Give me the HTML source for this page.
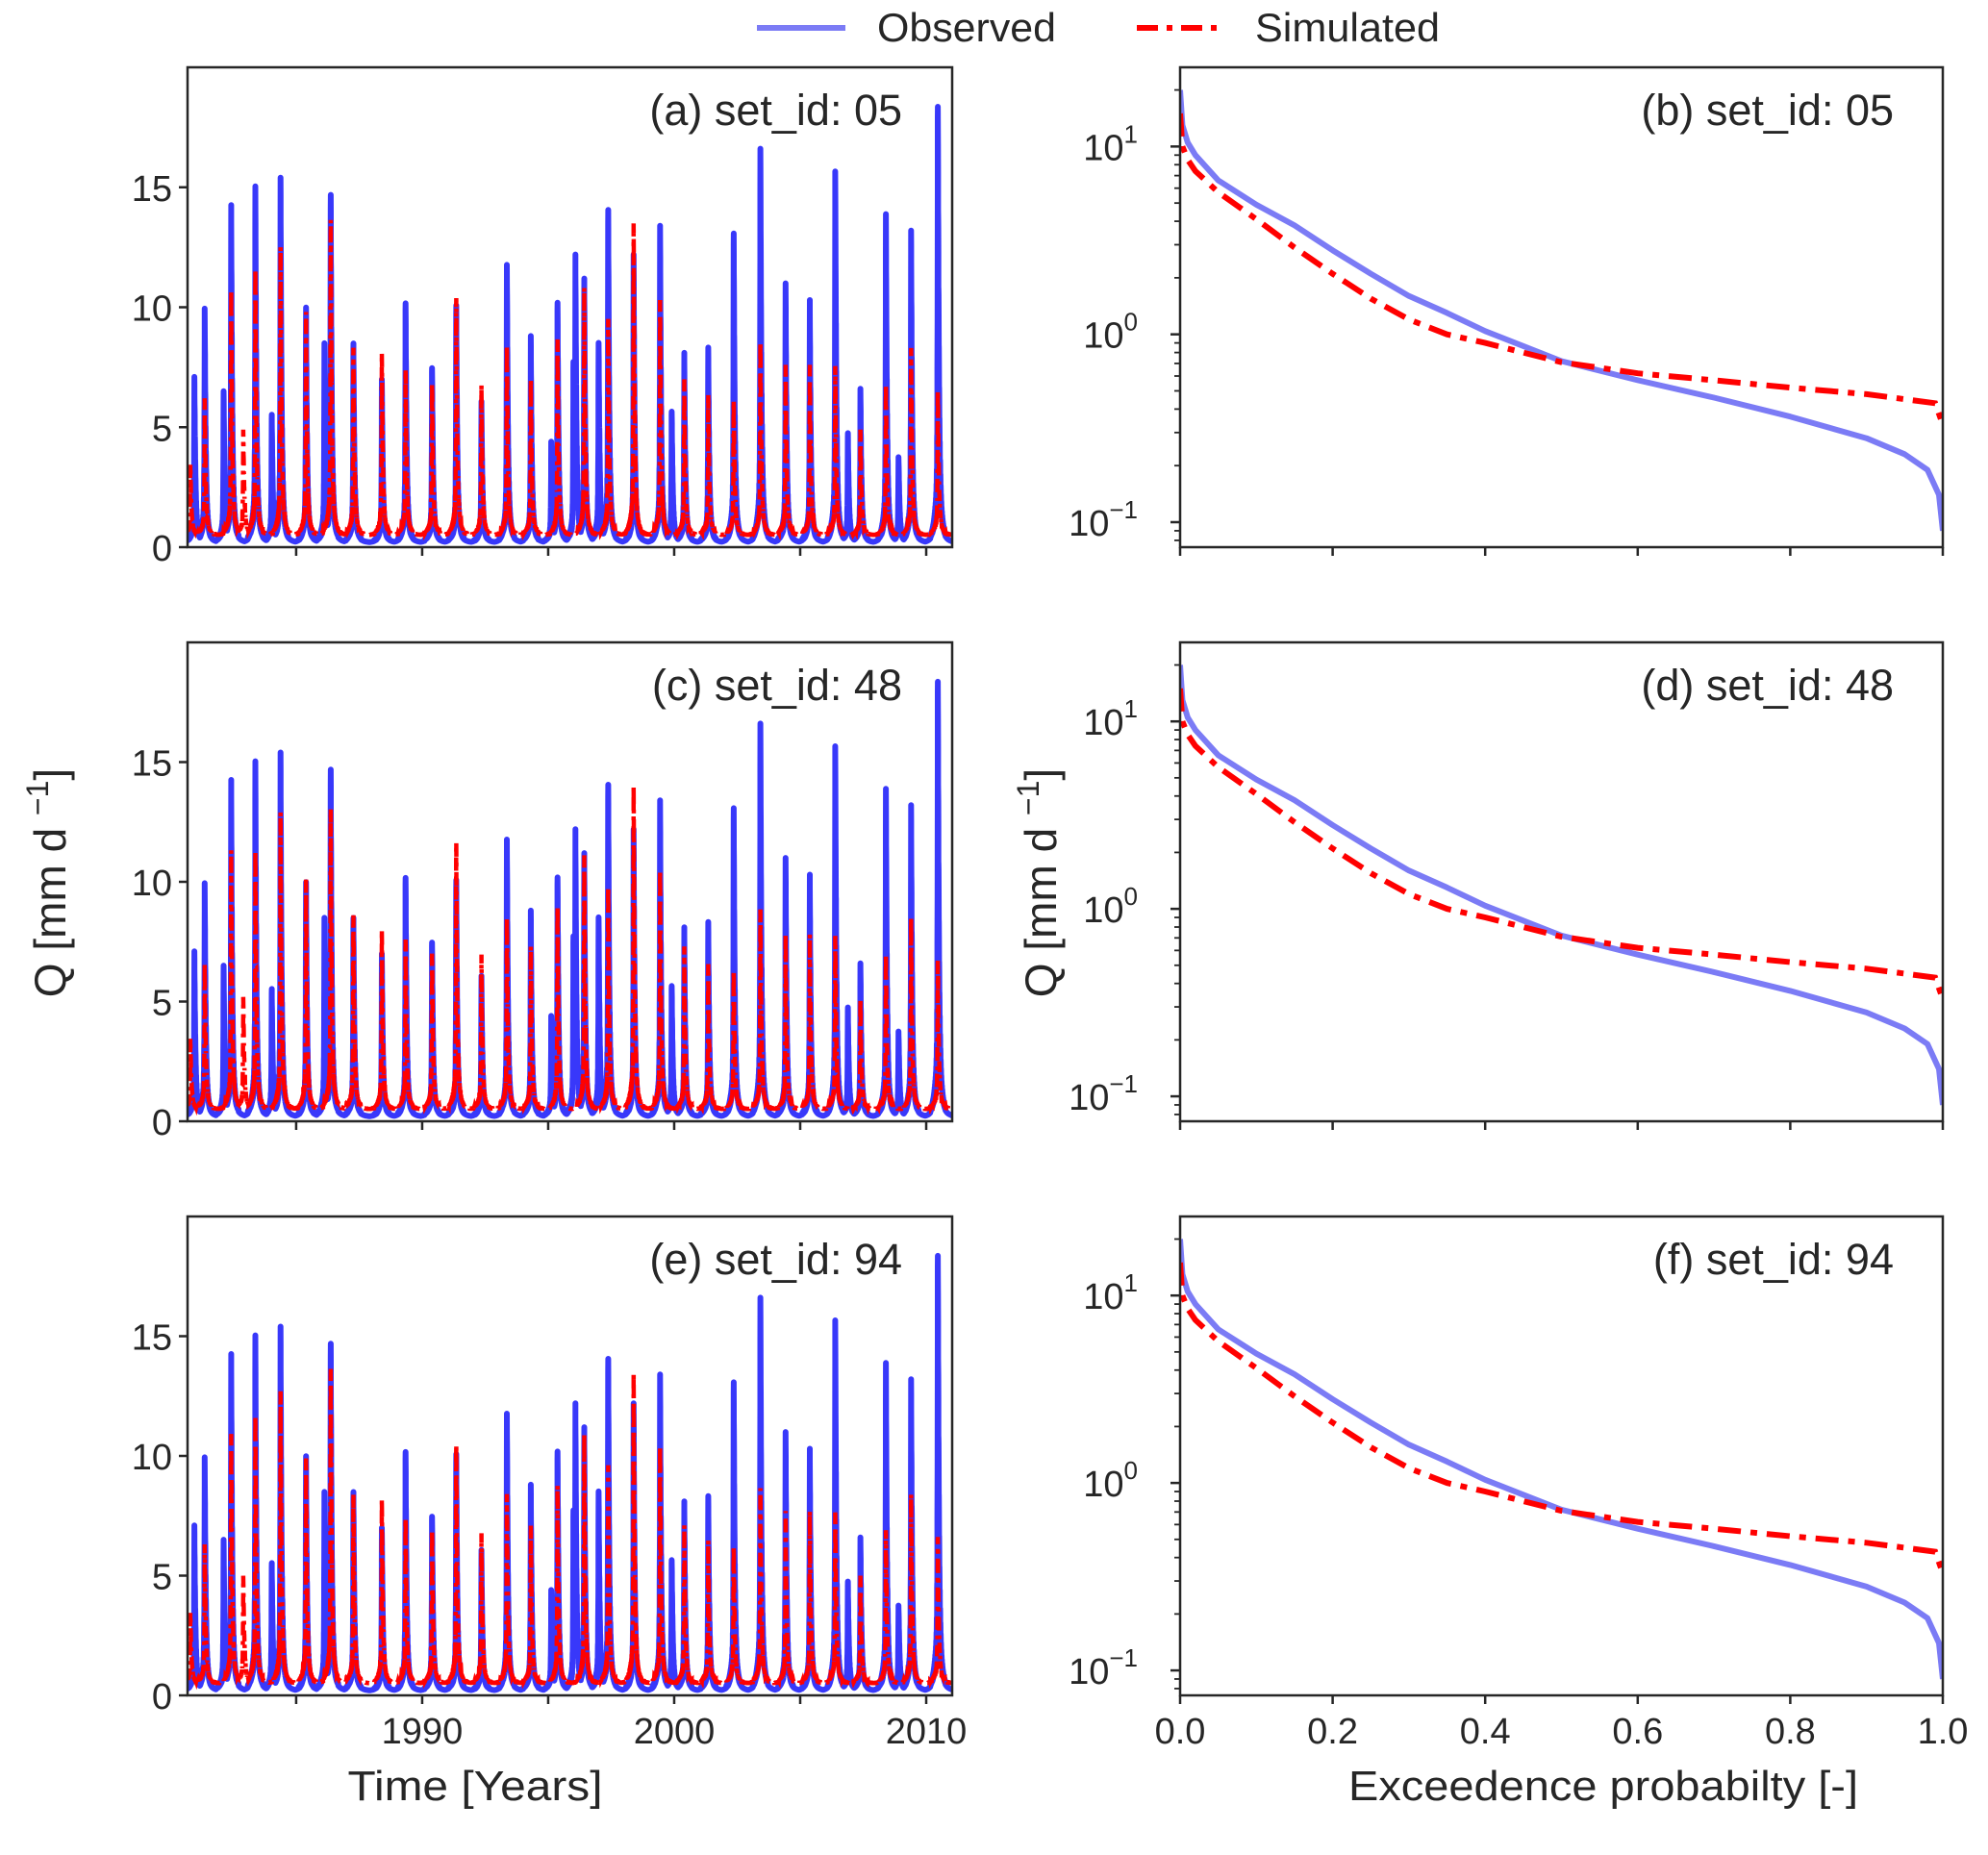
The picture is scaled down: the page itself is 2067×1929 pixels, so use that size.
<!DOCTYPE html>
<html><head><meta charset="utf-8"><style>
html,body{margin:0;padding:0;background:#fff}
svg{display:block}
text{font-family:"Liberation Sans",sans-serif;fill:#262626}
</style></head><body>
<svg id="fig" width="2067" height="1929" viewBox="0 0 2067 1929" xmlns="http://www.w3.org/2000/svg">
<g>
 <line x1="787" y1="29" x2="879" y2="29" stroke="#7b7bf5" stroke-width="6"/>
 <text x="912" y="43" font-size="42" textLength="186" lengthAdjust="spacingAndGlyphs">Observed</text>
 <line x1="1182" y1="29" x2="1274" y2="29" stroke="#ff0000" stroke-width="6" stroke-dasharray="22,9,6,9"/>
 <text x="1305" y="43" font-size="42" textLength="192" lengthAdjust="spacingAndGlyphs">Simulated</text>
</g>
<text transform="translate(68,918) rotate(-90)" text-anchor="middle" font-size="46">Q [mm d <tspan baseline-shift="super" font-size="32">−1</tspan>]</text>
<text transform="translate(1098,918) rotate(-90)" text-anchor="middle" font-size="46">Q [mm d <tspan baseline-shift="super" font-size="32">−1</tspan>]</text>
<text x="494" y="1872" text-anchor="middle" font-size="44" textLength="265" lengthAdjust="spacingAndGlyphs">Time [Years]</text>
<text x="1667" y="1872" text-anchor="middle" font-size="44" textLength="530" lengthAdjust="spacingAndGlyphs">Exceedence probabilty [-]</text>
<g id="plots"></g>
</svg>
<script>
// ---- time-series data: peak events (decimal year, mm/d) ----
const obsPeakYears = [1980.96,1981.37,1982.12,1982.42,1983.38,1984.03,1984.38,1985.39,1986.12,1986.37,1987.27,1988.40,1989.34,1990.39,1991.35,1992.35,1993.36,1994.31,1995.12,1995.37,1996.0,1996.08,1996.43,1997.0,1997.38,1998.39,1999.44,1999.9,2000.4,2001.35,2002.36,2003.42,2004.42,2005.38,2006.39,2006.89,2007.39,2008.4,2008.9,2009.4,2010.46];
const obsPeakValues = [6.9,9.9,6.4,14.3,15.1,5.5,15.2,10.0,8.3,15.0,8.6,6.8,10.4,7.6,10.2,6.0,12.0,8.6,4.2,10.4,7.8,12.0,11.2,8.5,14.3,12.0,13.2,5.7,7.9,8.3,13.3,16.7,10.8,10.1,15.8,4.7,6.4,13.9,3.7,13.0,19.0];
const simPeakYears = [1980.8,1981.37,1982.42,1982.9,1983.38,1984.38,1985.39,1986.37,1987.27,1988.40,1989.34,1990.39,1991.35,1992.35,1993.36,1994.31,1995.37,1996.43,1997.38,1998.39,1999.44,2000.4,2001.35,2002.36,2003.42,2004.42,2005.38,2006.39,2007.39,2008.4,2009.4,2010.46];
const simValuesA = [3.0,5.8,10.4,4.5,11.3,12.0,9.5,13.6,8.1,7.6,7.2,6.6,10.2,6.4,8.2,6.5,8.5,10.5,9.3,13.0,9.8,6.5,6.0,5.8,8.2,7.1,7.1,7.2,4.4,6.4,7.8,6.3];
const simValuesC = [3.0,6.2,11.0,4.8,11.0,12.4,9.8,13.0,8.4,7.5,7.4,6.8,11.5,6.6,8.3,6.8,8.8,10.8,9.6,13.5,10.0,6.8,6.2,6.0,8.5,7.3,7.3,7.4,4.6,6.6,8.0,6.5];
const simValuesE = [3.0,5.9,10.6,4.6,11.4,12.2,9.6,13.6,8.2,7.7,7.2,6.7,10.3,6.4,8.2,6.6,8.6,10.6,9.4,13.0,9.9,6.6,6.1,5.9,8.3,7.2,7.2,7.3,4.5,6.5,7.9,6.4];
const yearTicks = [1985,1990,1995,2000,2005,2010];
const yearTickLabels = ["","1990","","2000","","2010"];
const qTicks = [0,5,10,15];
// ---- flow duration curve data ----
const fdcObsP = [0,0.003,0.01,0.02,0.05,0.1,0.15,0.2,0.25,0.3,0.35,0.4,0.5,0.6,0.7,0.8,0.9,0.95,0.98,0.995,1.0];
const fdcObsQ = [20,13,10.5,9.0,6.6,4.9,3.8,2.8,2.1,1.6,1.3,1.04,0.72,0.57,0.46,0.365,0.28,0.23,0.19,0.14,0.09];
const fdcSimP = [0,0.003,0.01,0.02,0.05,0.1,0.15,0.2,0.25,0.3,0.35,0.4,0.5,0.6,0.7,0.8,0.9,0.99,1.0];
const fdcSimQ = [15,10,8.5,7.4,5.7,4.1,2.9,2.1,1.55,1.2,1.0,0.9,0.71,0.62,0.57,0.52,0.48,0.43,0.33];
const probTicks = [0,0.2,0.4,0.6,0.8,1.0];

const NS="http://www.w3.org/2000/svg";
const root=document.getElementById('plots');
function mk(tag,attrs,parent){const e=document.createElementNS(NS,tag);for(const k in attrs)e.setAttribute(k,attrs[k]);(parent||root).appendChild(e);return e;}

function series(years,vals,base,t0,t1,wig){
  const pts=[];
  for(let t=t0;t<=t1;t+=0.003){
    let best=0;
    for(let i=0;i<years.length;i++){
      const d=t-years[i];
      if(d<-0.6||d>0.8) continue;
      let c;
      if(d<0) c=vals[i]*(0.9*Math.exp(d/0.012)+0.1*Math.exp(d/0.12));
      else c=vals[i]*(0.9*Math.exp(-d/0.04)+0.1*Math.exp(-d/0.15));
      if(Math.abs(d)<0.3) c+=wig*vals[i]*0.08*Math.abs(Math.sin(t*260))*Math.exp(-Math.abs(d)/0.12)*(1-Math.exp(-Math.abs(d)/0.01));
      if(c>best) best=c;
    }
    pts.push([t,base+best]);
  }
  return pts;
}

const leftX0=195,leftX1=990,rightX0=1227,rightX1=2020;
const rows=[[70,569],[668,1166],[1265,1763]];
const labels=[["(a) set_id: 05","(b) set_id: 05"],["(c) set_id: 48","(d) set_id: 48"],["(e) set_id: 94","(f) set_id: 94"]];
const simSets=[simValuesA,simValuesC,simValuesE];
const yr0=1980.69,yr1=2011.03,qMax=20.0,logMin=Math.log10(0.0736),logMax=Math.log10(26.4);

rows.forEach((r,ri)=>{
  const [top,bot]=r;
  const last=ri===2;
  const xs=y=>leftX0+(y-yr0)/(yr1-yr0)*(leftX1-leftX0);
  const ys=q=>bot-q/qMax*(bot-top);
  const gl=mk('g',{});
  
  
  const cid='clipL'+ri;
  const cp=mk('clipPath',{id:cid},gl);mk('rect',{x:leftX0,y:top,width:leftX1-leftX0,height:bot-top},cp);
  const o=series(obsPeakYears,obsPeakValues,0.2,yr0,yr1,1);
  const po=mk('polyline',{points:o.map(p=>xs(p[0]).toFixed(1)+','+ys(p[1]).toFixed(1)).join(' '),fill:'none',stroke:'#3838fa',"stroke-width":6,"stroke-linejoin":'round',"clip-path":'url(#'+cid+')'},gl);
  
  
  const s=series(simPeakYears,simSets[ri],0.5,yr0,yr1,1);
  const ps=mk('polyline',{points:s.map(p=>xs(p[0]).toFixed(1)+','+ys(p[1]).toFixed(1)).join(' '),fill:'none',stroke:'#ff0000',"stroke-width":4.5,"stroke-dasharray":'14,6,4,6',"clip-path":'url(#'+cid+')'},gl);
  
  
  mk('rect',{x:leftX0,y:top,width:leftX1-leftX0,height:bot-top,fill:'none',stroke:'#262626',"stroke-width":2.5},gl);
  qTicks.forEach(q=>{
    mk('line',{x1:leftX0-9,x2:leftX0,y1:ys(q),y2:ys(q),stroke:'#262626',"stroke-width":2.5},gl);
    const t=mk('text',{x:leftX0-16,y:ys(q)+14,"text-anchor":'end',"font-size":38},gl);t.textContent=q;
    
    
  });
  yearTicks.forEach((y,i)=>{
    mk('line',{x1:xs(y),x2:xs(y),y1:bot,y2:bot+9,stroke:'#262626',"stroke-width":2.5},gl);
    if(last&&yearTickLabels[i]){const t=mk('text',{x:xs(y),y:bot+50,"text-anchor":'middle',"font-size":38},gl);t.textContent=yearTickLabels[i];
      
      }
  });
  const lt=mk('text',{x:938,y:top+60,"text-anchor":'end',"font-size":45},gl);lt.textContent=labels[ri][0];
  
  

  const px=p=>rightX0+p*(rightX1-rightX0);
  const py=q=>bot-(Math.log10(q)-logMin)/(logMax-logMin)*(bot-top);
  const gr=mk('g',{});
  
  
  const cid2='clipR'+ri;
  const cp2=mk('clipPath',{id:cid2},gr);mk('rect',{x:rightX0,y:top,width:rightX1-rightX0,height:bot-top},cp2);
  const fo=mk('polyline',{points:fdcObsP.map((p,i)=>px(p).toFixed(1)+','+py(fdcObsQ[i]).toFixed(1)).join(' '),fill:'none',stroke:'#7b7bf5',"stroke-width":6,"stroke-linejoin":'round',"clip-path":'url(#'+cid2+')'},gr);
  
  
  const fs=mk('polyline',{points:fdcSimP.map((p,i)=>px(p).toFixed(1)+','+py(fdcSimQ[i]).toFixed(1)).join(' '),fill:'none',stroke:'#ff0000',"stroke-width":6,"stroke-dasharray":'24,10,7,10',"clip-path":'url(#'+cid2+')'},gr);
  
  
  mk('rect',{x:rightX0,y:top,width:rightX1-rightX0,height:bot-top,fill:'none',stroke:'#262626',"stroke-width":2.5},gr);
  [-1,0,1].forEach(e=>{
    mk('line',{x1:rightX0-10,x2:rightX0,y1:py(Math.pow(10,e)),y2:py(Math.pow(10,e)),stroke:'#262626',"stroke-width":2.5},gr);
    const t=mk('text',{x:rightX0-44,y:py(Math.pow(10,e))+14,"text-anchor":'end',"font-size":38},gr);
    t.textContent='10';
    const sp=mk('tspan',{dy:-18,"font-size":26},t);sp.textContent=e<0?'−1':String(e);
    
    
  });
  for(let e=-2;e<=1;e++)for(let m=2;m<=9;m++){const q=m*Math.pow(10,e);const y=py(q);
    if(y>=top&&y<=bot)mk('line',{x1:rightX0-6,x2:rightX0,y1:y,y2:y,stroke:'#262626',"stroke-width":1.8},gr);}
  probTicks.forEach(p=>{
    mk('line',{x1:px(p),x2:px(p),y1:bot,y2:bot+9,stroke:'#262626',"stroke-width":2.5},gr);
    if(last){const t=mk('text',{x:px(p),y:bot+50,"text-anchor":'middle',"font-size":38},gr);t.textContent=p.toFixed(1);
      
      }
  });
  const rt=mk('text',{x:1969,y:top+60,"text-anchor":'end',"font-size":45},gr);rt.textContent=labels[ri][1];
  
  
});
</script>
</body></html>
